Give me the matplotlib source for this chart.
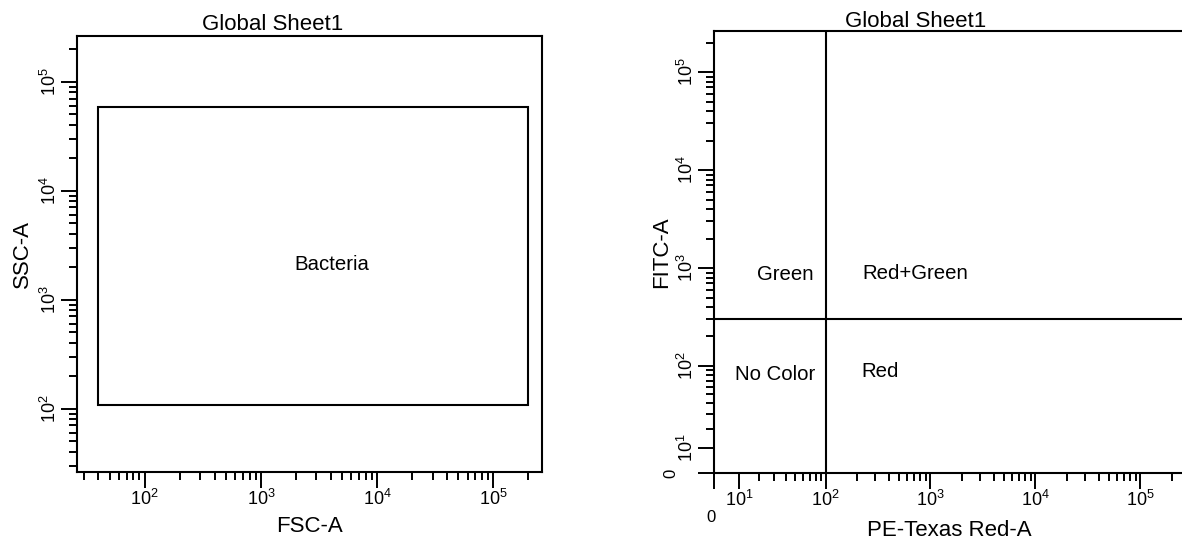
import numpy as np
import matplotlib
matplotlib.use("Agg")
import matplotlib.pyplot as plt
from matplotlib.patches import Rectangle

plt.rcParams['font.family'] = ['Liberation Sans', 'DejaVu Sans']
plt.rcParams['mathtext.fontset'] = 'custom'
plt.rcParams['mathtext.rm'] = 'Liberation Sans'
plt.rcParams['mathtext.it'] = 'Liberation Sans'

# axis ranges (log / biexponential-like)
fsc_range = [26.2, 262144]
ssc_range = [26.2, 262144]
pe_range = [0, 262144]
fitc_range = [0, 262144]

# rectangle gate on FSC-A / SSC-A
gate_name = "Bacteria"
gate_fsc = [40, 200000]
gate_ssc = [107, 59000]

# quadrant gate on PE-Texas Red-A / FITC-A
quad_pe = 100
quad_fitc = 300
quad_names = ["Green", "Red+Green", "No Color", "Red"]

title = "Global Sheet1"

# asinh widths for the right plot axes
wx = 17.4
wy = 16.2


def sup(k):
    return r'$\mathregular{10^{%d}}$' % k


def log_ticks(lo, hi, start):
    major = [10 ** k for k in range(start, 6) if lo <= 10 ** k <= hi]
    minor = [m * 10 ** k for k in range(start - 1, 6) for m in range(2, 10)
             if lo < m * 10 ** k < hi]
    return major, minor


def style_axes(ax):
    for s in ax.spines.values():
        s.set_linewidth(1.5)
    ax.tick_params(which='major', length=11.5, width=1.4, pad=1, labelsize=13)
    ax.tick_params(which='minor', length=5.8, width=1.4)
    for lbl in ax.get_yticklabels():
        lbl.set_rotation(90)
        lbl.set_va('center')


fig = plt.figure(figsize=(11.82, 5.44), dpi=100)

# ---------- left: FSC-A vs SSC-A ----------
ax1 = fig.add_axes([77 / 1182, 72 / 544, 465 / 1182, 436 / 544])
ax1.set_xscale('log')
ax1.set_yscale('log')
ax1.set_xlim(fsc_range)
ax1.set_ylim(ssc_range)

mj, mn = log_ticks(fsc_range[0], fsc_range[1], 2)
ax1.set_xticks(mj, [sup(int(np.log10(v))) for v in mj])
ax1.set_xticks(mn, minor=True)
ax1.xaxis.set_minor_formatter(plt.NullFormatter())
mj, mn = log_ticks(ssc_range[0], ssc_range[1], 2)
ax1.set_yticks(mj, [sup(int(np.log10(v))) for v in mj])
ax1.set_yticks(mn, minor=True)
ax1.yaxis.set_minor_formatter(plt.NullFormatter())
style_axes(ax1)

ax1.add_patch(Rectangle((gate_fsc[0], gate_ssc[0]),
                        gate_fsc[1] - gate_fsc[0], gate_ssc[1] - gate_ssc[0],
                        fill=False, ec='black', lw=1.5))
ax1.text(0.548, 0.475, gate_name, transform=ax1.transAxes,
         ha='center', va='center', fontsize=14.7)

ax1.set_xlabel("FSC-A", fontsize=16)
ax1.set_ylabel("SSC-A", fontsize=16)
ax1.xaxis.set_label_coords(0.5, -0.101)
ax1.yaxis.set_label_coords(-0.0946, 0.5)

# ---------- right: PE-Texas Red-A vs FITC-A ----------
ax2 = fig.add_axes([714 / 1182, 71 / 544, 470.3 / 1182, 442 / 544])
ax2.set_xscale('function', functions=(lambda v: np.arcsinh(v / wx),
                                      lambda v: wx * np.sinh(v)))
ax2.set_yscale('function', functions=(lambda v: np.arcsinh(v / wy),
                                      lambda v: wy * np.sinh(v)))
ax2.set_xlim(pe_range)
ax2.set_ylim(fitc_range)
ax2.spines['right'].set_visible(False)

mj, mn = log_ticks(10, pe_range[1], 1)
ax2.set_xticks([0] + mj, [''] + [sup(int(np.log10(v))) for v in mj])
ax2.set_xticks(mn, minor=True)
ax2.xaxis.set_minor_formatter(plt.NullFormatter())
mj, mn = log_ticks(10, fitc_range[1], 1)
ax2.set_yticks([0] + mj, [''] + [sup(int(np.log10(v))) for v in mj])
ax2.set_yticks(mn, minor=True)
ax2.yaxis.set_minor_formatter(plt.NullFormatter())
style_axes(ax2)

ax2.annotate('0', xy=(0, 0), xytext=(-2.2, -32), textcoords='offset points',
             ha='center', va='center', fontsize=12, annotation_clip=False)
ax2.annotate('0', xy=(0, 0), xytext=(-31, 0), textcoords='offset points',
             ha='center', va='center', fontsize=12, rotation=90,
             annotation_clip=False)

ax2.axvline(quad_pe, color='black', lw=1.5)
ax2.axhline(quad_fitc, color='black', lw=1.5)

quad_pos = [(0.152, 0.450), (0.427, 0.452), (0.129, 0.222), (0.353, 0.229)]
for name, (px, py) in zip(quad_names, quad_pos):
    ax2.text(px, py, name, transform=ax2.transAxes,
             ha='center', va='center', fontsize=14.7)

ax2.set_xlabel("PE-Texas Red-A", fontsize=16)
ax2.set_ylabel("FITC-A", fontsize=16)
ax2.xaxis.set_label_coords(0.5, -0.106)
ax2.yaxis.set_label_coords(-0.089, 0.5)

fig.text(202 / 1182, 1 - 30 / 544, title, ha='left', va='baseline', fontsize=16)
fig.text(845 / 1182, 1 - 27 / 544, title, ha='left', va='baseline', fontsize=16)

fig.savefig("out.png", dpi=100)
plt.close(fig)
